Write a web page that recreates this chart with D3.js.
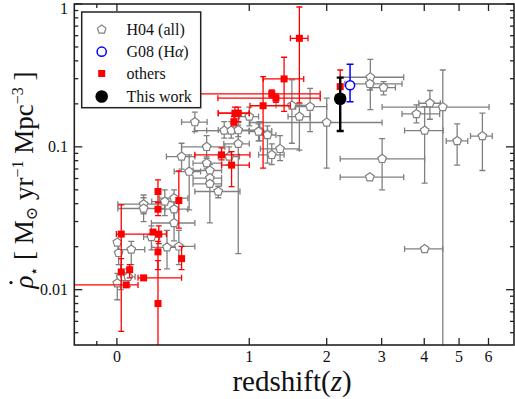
<!DOCTYPE html>
<html><head><meta charset="utf-8">
<script src="https://cdn.jsdelivr.net/npm/d3@7/dist/d3.min.js"></script>
<style>body{margin:0;background:#fff}svg{display:block}
text{font-family:"Liberation Serif","DejaVu Serif","Times New Roman",Times,serif}</style>
</head><body><svg id="c" width="515" height="399"></svg>
<script>
// ---------------- data ----------------
// H04 compilation (gray open pentagons): redshift, z-range, SFR density, density range
const h04Z    = [2.77,2.76,3.04,4.15,4.51,3.80,4.01,4.94,5.78,3.01,2.76,4.01,1.50,1.75,1.60,2.00,1.00,1.11,1.20,1.35,1.25,0.888,0.80,0.754,0.82,0.888,1.10,0.70,0.504,0.60,0.403,0.60,0.627,0.627,0.627,0.46,0.349,0.285,0.349,0.15,0.15,0.349,0.002,0.009,0.078,0.198,0.30,0.383,0.02,0.041,0.06,0.002];
const h04ZLo  = [2.22,2.30,2.80,3.86,3.01,3.45,3.51,4.61,5.37,2.22,2.22,3.51,1.30,1.55,1.45,1.007,0.90,1.00,1.10,1.12,1.10,0.75,0.70,0.50,0.60,0.70,1.00,0.504,0.403,0.403,0.296,0.49,0.49,0.49,0.49,0.35,0.25,0.20,0.25,0.005,0.005,0.198,null,null,0.005,0.15,0.20,0.30,null,null,0.02,null];
const h04ZHi  = [3.49,3.45,3.30,4.44,6.02,4.42,4.52,5.28,6.14,4.01,3.49,4.51,1.75,2.00,1.75,3.01,1.10,1.25,1.30,1.60,1.40,1.00,0.90,1.00,1.10,1.10,1.20,0.905,0.604,0.76,0.504,0.73,0.73,0.73,0.73,0.55,0.45,0.38,0.45,0.285,0.285,0.504,null,null,0.157,0.25,0.40,0.504,null,null,0.10,null];
const h04Rho  = [0.307,0.276,0.26,0.202,0.19,0.17,0.13,0.11,0.119,0.0824,0.0613,0.0193,0.195,0.191,0.163,0.148,0.163,0.129,0.121,0.0968,0.0879,0.105,0.0855,0.13,0.13,0.131,0.128,0.0487,0.149,0.10,0.0855,0.0769,0.0683,0.0604,0.0551,0.0671,0.0437,0.0414,0.0366,0.0397,0.037,0.0293,0.0214,0.0181,0.0191,0.0234,0.0198,0.0201,0.0123,0.0123,0.0123,0.0111];
const h04RLo  = [0.182,0.25,0.231,0.156,0.002,0.147,0.0557,0.0745,0.0683,0.05,null,null,0.106,0.128,0.095,0.0709,0.14,0.11,0.077,0.08,0.075,0.0179,0.075,0.115,0.115,0.118,0.11,0.044,0.128,0.083,0.0698,0.07,0.062,0.055,0.0294,0.0362,0.037,0.033,0.03,0.034,0.03,0.022,null,0.015,0.015,0.019,0.014,0.015,0.01,null,0.0105,0.0085];
const h04RHi  = [0.41,0.30,0.286,0.248,0.345,0.197,0.191,0.145,0.172,0.114,null,null,0.294,0.257,0.20,0.219,0.19,0.15,0.14,0.12,0.105,0.142,0.10,0.15,0.15,0.148,0.145,0.053,0.175,0.12,0.106,0.085,0.075,0.066,0.06,0.0879,0.05,0.05,0.042,0.046,0.044,0.035,null,0.022,0.0218,0.028,0.026,0.026,0.015,null,0.014,0.013];

// others (red filled squares)
const othZ   = [1.60,1.40,1.25,1.30,1.15,0.855,0.888,0.845,0.73,0.823,0.24,0.383,0.24,0.023,0.208,0.245,0.24,0.403,0.023,0.069,0.15,0.05,0.24,2.22];
const othZLo = [1.48,1.15,0.544,0.697,1.007,0.70,0.70,null,0.504,0.73,null,null,null,-0.003,null,null,null,null,null,null,0.117,-0.25,null,null];
const othZHi = [1.72,1.66,1.90,1.90,1.48,1.00,1.00,null,1.007,1.00,null,null,null,0.296,null,null,null,null,null,null,0.403,0.117,null,null];
const othRho = [0.575,0.299,0.235,0.219,0.194,0.172,0.172,0.15,0.0879,0.0745,0.0487,0.0421,0.0366,0.0245,0.0253,0.0245,0.0184,0.0165,0.0133,0.0138,0.0121,0.0108,0.008,0.264];
const othRLo = [0.203,0.177,0.22,0.205,0.0709,0.15,0.15,0.14,0.0811,0.0527,0.0406,0.027,0.033,0.0133,null,0.021,0.0138,0.0138,0.0051,0.0121,null,null,0.001,0.22];
const othRHi = [0.953,0.424,0.25,0.235,0.31,0.19,0.19,0.163,0.0984,0.0927,0.0587,0.0679,0.041,0.0393,null,0.028,0.0218,0.0201,0.0165,0.015,null,null,0.016,0.345];

// G08 (H-alpha) and this work
const g08Z = [2.39], g08Rho = [0.27], g08RLo = [0.207], g08RHi = [0.378];
const twZ  = [2.22], twRho  = [0.217], twRLo  = [0.129], twRHi  = [0.305];

// axis ticks
const xTickZ = [0,1,2,3,4,5,6];
const xMinorZ = [-0.1];
const yTickVals = [0.01,0.1,1];
const yTickLabels = ["0.01","0.1","1"];
const legendLabels = ["H04 (all)","G08 (H\u03b1)","others","This work"];

// ---------------- drawing ----------------
const L=74.3, R=514, T=4, B=345;
const svg = d3.select("#c");
const xs = d3.scaleLog().domain([0.8,8]).range([L,R]);
const X = z => xs(1+z);
const ys = d3.scaleLog().domain([0.0041,1]).range([B,T]);

svg.append("defs").append("clipPath").attr("id","clip")
  .append("rect").attr("x",L).attr("y",T).attr("width",R-L).attr("height",B-T);
const plot = svg.append("g").attr("clip-path","url(#clip)");

function pentagon(r){
  const p = d3.range(5).map(k=>{const a=(-90+72*k)*Math.PI/180;return [r*Math.cos(a), r*Math.sin(a)];});
  return "M"+p.map(q=>q[0].toFixed(2)+","+q[1].toFixed(2)).join("L")+"Z";
}

function errBars(g, zs, zlo, zhi, rho, rlo, rhi, color, w, cap){
  zs.forEach((z,i)=>{
    const cx = X(z), cy = ys(rho[i]);
    if (zlo && zlo[i]!=null){
      const x1=X(zlo[i]), x2=X(zhi[i]);
      g.append("line").attr("x1",x1).attr("x2",x2).attr("y1",cy).attr("y2",cy).attr("stroke",color).attr("stroke-width",w);
      [x1,x2].forEach(xx=>g.append("line").attr("x1",xx).attr("x2",xx).attr("y1",cy-cap).attr("y2",cy+cap).attr("stroke",color).attr("stroke-width",w));
    }
    if (rlo && rlo[i]!=null){
      const y1=ys(rlo[i]), y2=ys(rhi[i]);
      g.append("line").attr("x1",cx).attr("x2",cx).attr("y1",y1).attr("y2",y2).attr("stroke",color).attr("stroke-width",w);
      [y1,y2].forEach(yy=>g.append("line").attr("x1",cx-cap).attr("x2",cx+cap).attr("y1",yy).attr("y2",yy).attr("stroke",color).attr("stroke-width",w));
    }
  });
}

const GRAY="#808080", RED="#ff0000", BLUE="#0000ff";
// H04
errBars(plot, h04Z, h04ZLo, h04ZHi, h04Rho, h04RLo, h04RHi, GRAY, 1.3, 3);
plot.selectAll(".h04").data(h04Z).enter().append("path")
  .attr("d", pentagon(4.5))
  .attr("transform",(z,i)=>`translate(${X(z)},${ys(h04Rho[i])})`)
  .attr("fill","#fff").attr("stroke",GRAY).attr("stroke-width",1.2);
// others
errBars(plot, othZ, othZLo, othZHi, othRho, othRLo, othRHi, RED, 1.3, 3);
plot.selectAll(".oth").data(othZ).enter().append("rect")
  .attr("x",(z)=>X(z)-3.5).attr("y",(z,i)=>ys(othRho[i])-3.5)
  .attr("width",7).attr("height",7).attr("fill",RED);
// G08
errBars(plot, g08Z, null, null, g08Rho, g08RLo, g08RHi, BLUE, 1.5, 3.5);
plot.selectAll(".g08").data(g08Z).enter().append("circle")
  .attr("cx",z=>X(z)).attr("cy",(z,i)=>ys(g08Rho[i])).attr("r",4.6)
  .attr("fill","#fff").attr("stroke",BLUE).attr("stroke-width",1.5);
// this work
errBars(plot, twZ, null, null, twRho, twRLo, twRHi, "#000", 2.4, 3.5);
plot.selectAll(".tw").data(twZ).enter().append("circle")
  .attr("cx",z=>X(z)).attr("cy",(z,i)=>ys(twRho[i])).attr("r",6.3).attr("fill","#000");

// frame + ticks
const axc = "#222";
const ax = svg.append("g").attr("stroke",axc).attr("stroke-width",1.3);
xTickZ.forEach(z=>{
  ax.append("line").attr("x1",X(z)).attr("x2",X(z)).attr("y1",B).attr("y2",B-7);
  ax.append("line").attr("x1",X(z)).attr("x2",X(z)).attr("y1",T).attr("y2",T+7);
});
xMinorZ.forEach(z=>{
  ax.append("line").attr("x1",X(z)).attr("x2",X(z)).attr("y1",B).attr("y2",B-4);
  ax.append("line").attr("x1",X(z)).attr("x2",X(z)).attr("y1",T).attr("y2",T+4);
});
const yMinor = [];
[0.001,0.01,0.1].forEach(d=>{for(let k=2;k<=9;k++){const v=d*k; if(v>=0.0041&&v<=1) yMinor.push(v);}});
yTickVals.forEach(v=>{
  ax.append("line").attr("x1",L).attr("x2",L+8).attr("y1",ys(v)).attr("y2",ys(v));
  ax.append("line").attr("x1",R).attr("x2",R-8).attr("y1",ys(v)).attr("y2",ys(v));
});
yMinor.forEach(v=>{
  ax.append("line").attr("x1",L).attr("x2",L+4).attr("y1",ys(v)).attr("y2",ys(v));
  ax.append("line").attr("x1",R).attr("x2",R-4).attr("y1",ys(v)).attr("y2",ys(v));
});
svg.append("rect").attr("x",L).attr("y",T).attr("width",R-L).attr("height",B-T)
  .attr("fill","none").attr("stroke",axc).attr("stroke-width",1.6);

// tick labels
svg.append("g").selectAll("text").data(xTickZ).enter().append("text")
  .attr("x",z=>X(z)).attr("y",362).attr("text-anchor","middle")
  .attr("font-size",16).attr("fill","#111").text(z=>z);
svg.append("g").selectAll("text").data(yTickVals).enter().append("text")
  .attr("x",68).attr("y",v=>Math.max(ys(v)+5,14)).attr("text-anchor","end")
  .attr("font-size",16).attr("fill","#111").text((v,i)=>yTickLabels[i]);

// axis titles
const xt = svg.append("text").attr("x",292).attr("y",391).attr("text-anchor","middle")
  .attr("font-size",29).attr("fill","#111");
xt.append("tspan").text("redshift(");
xt.append("tspan").attr("font-style","italic").text("z");
xt.append("tspan").text(")");

const yt = svg.append("text").attr("transform","translate(33,180) rotate(-90)").attr("text-anchor","middle")
  .attr("font-size",27).attr("fill","#111");
yt.append("tspan").attr("font-style","italic").text("\u03c1");
yt.append("tspan").attr("font-size",15).attr("dy",6).text("\u22c6");
yt.append("tspan").attr("dy",-6).text(" [ M");
yt.append("tspan").attr("font-size",16).attr("dy",4).text("\u2299");
yt.append("tspan").attr("dy",-4).text(" yr");
yt.append("tspan").attr("font-size",16).attr("dy",-10).text("\u22121");
yt.append("tspan").attr("dy",10).text(" Mpc");
yt.append("tspan").attr("font-size",16).attr("dy",-10).text("\u22123");
yt.append("tspan").attr("dy",10).text(" ]");
// dot over rho (time derivative)
const yb = yt.node().getBBox();
svg.append("circle").attr("cx",33-22).attr("cy",180+yb.width/2-6.5).attr("r",1.6).attr("fill","#111");

// legend
const lg = svg.append("g");
lg.append("rect").attr("x",81.7).attr("y",12).attr("width",119).attr("height",95.7)
  .attr("fill","#fff").attr("stroke",axc).attr("stroke-width",1.5);
const ly = [29.5, 51.7, 73.5, 96.5], lx = 101.7;
lg.append("path").attr("d",pentagon(4.5)).attr("transform",`translate(${lx},${ly[0]})`)
  .attr("fill","#fff").attr("stroke",GRAY).attr("stroke-width",1.2);
lg.append("circle").attr("cx",lx).attr("cy",ly[1]).attr("r",4.6).attr("fill","#fff").attr("stroke",BLUE).attr("stroke-width",1.5);
lg.append("rect").attr("x",lx-3.5).attr("y",ly[2]-3.5).attr("width",7).attr("height",7).attr("fill",RED);
lg.append("circle").attr("cx",lx).attr("cy",ly[3]).attr("r",6.3).attr("fill","#000");
legendLabels.forEach((t,i)=>{
  const tx = lg.append("text").attr("x",126.5).attr("y",ly[i]+5)
    .attr("font-size",16).attr("fill","#111");
  if (i===1){ tx.append("tspan").text("G08 (H"); tx.append("tspan").attr("font-style","italic").text("\u03b1"); tx.append("tspan").text(")"); }
  else tx.text(t);
});
</script></body></html>
